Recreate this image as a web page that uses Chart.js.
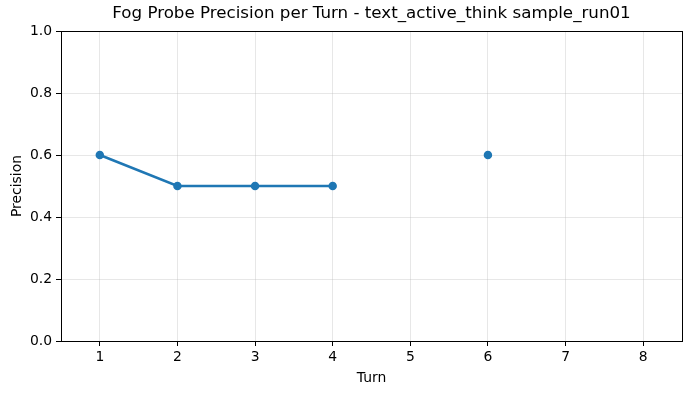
<!DOCTYPE html>
<html>
<head>
<meta charset="utf-8">
<script src="https://cdn.jsdelivr.net/npm/chart.js@4"></script>
<style>
  html, body { margin: 0; padding: 0; background: #fff; }
</style>
</head>
<body>
<canvas id="precisionChart" width="691" height="393"></canvas>
<script>
const ctx = document.getElementById('precisionChart');

// Data
var turns = [1, 2, 3, 4, 5, 6, 7, 8];
var precision = [0.6, 0.5, 0.5, 0.5, null, 0.6, null, null];
var yTicks = [0, 0.2, 0.4, 0.6, 0.8, 1.0];

var font = "'DejaVu Sans', sans-serif";

// Draw the top and right spines like matplotlib
var frame = {
    id: 'frame',
    afterDraw(chart) {
        var a = chart.chartArea, c = chart.ctx;
        c.save();
        c.strokeStyle = '#000';
        c.lineWidth = 1;
        c.strokeRect(Math.round(a.left) + 0.5, Math.round(a.top) + 0.5,
            Math.round(a.right - a.left), Math.round(a.bottom - a.top));
        c.restore();
    }
};

new Chart(ctx, {
    type: 'line',
    data: {
        datasets: [{
            label: 'Precision',
            data: turns.map((t, i) => ({x: t, y: precision[i]})),
            borderColor: '#1f77b4',
            backgroundColor: '#1f77b4',
            borderWidth: 2.5,
            pointRadius: 3,
            pointHoverRadius: 3,
            spanGaps: false,
            tension: 0
        }]
    },
    options: {
        responsive: false,
        animation: false,
        layout: {padding: {left: 0, right: 9, top: 0, bottom: 0}},
        plugins: {
            legend: {display: false},
            tooltip: {enabled: false},
            title: {
                display: true,
                fullSize: false,
                text: 'Fog Probe Precision per Turn - text_active_think sample_run01',
                color: '#000',
                font: {family: font, size: 16.7, weight: 'normal'},
                padding: {top: 4, bottom: 7}
            }
        },
        scales: {
            x: {
                type: 'linear',
                min: 0.5,
                max: 8.5,
                afterBuildTicks: s => { s.ticks = turns.map(v => ({value: v})); },
                afterFit: s => { s.height = 52; },
                grid: {color: 'rgba(176,176,176,0.3)', tickColor: '#000', tickLength: 5},
                border: {color: '#000'},
                ticks: {color: '#000', font: {family: font, size: 13.9}, padding: 3, maxRotation: 0},
                title: {display: true, text: 'Turn', color: '#000', font: {family: font, size: 13.9}, padding: {top: 0, bottom: 6}}
            },
            y: {
                min: 0,
                max: 1,
                afterBuildTicks: s => { s.ticks = yTicks.map(v => ({value: v})); },
                afterFit: s => { s.width = 61; },
                grid: {color: 'rgba(176,176,176,0.3)', tickColor: '#000', tickLength: 5},
                border: {color: '#000'},
                ticks: {color: '#000', font: {family: font, size: 13.9}, padding: 4,
                    callback: v => v.toFixed(1)},
                title: {display: true, text: 'Precision', color: '#000', font: {family: font, size: 13.9}, padding: {top: 9, bottom: 0}}
            }
        }
    },
    plugins: [frame]
});
</script>
</body>
</html>
